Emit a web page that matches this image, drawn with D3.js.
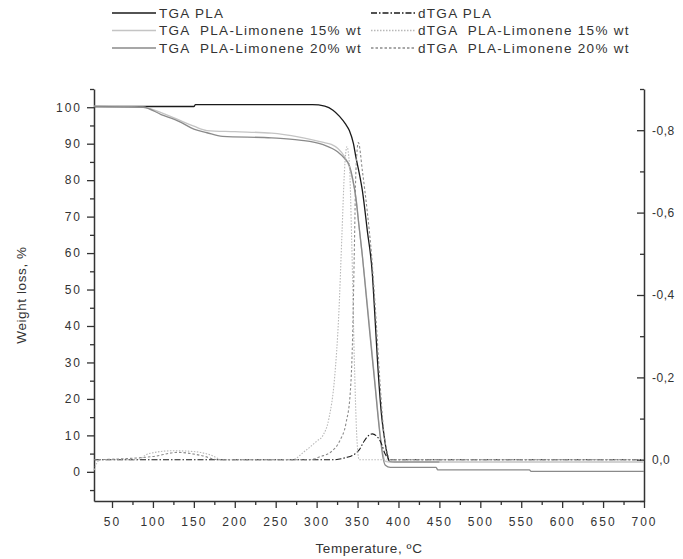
<!DOCTYPE html>
<html>
<head>
<meta charset="utf-8">
<script src="https://cdn.jsdelivr.net/npm/d3@7"></script>
<style>
  body { margin: 0; background: #fff; }
  svg { display: block; font-family: 'Liberation Sans', Arial, sans-serif; }
</style>
</head>
<body>
<div id="svg-container"></div>
<script>
// TGA curves: [temperature ºC, weight %]
const tgaPla = [
  [28, 100.2], [150, 100.2], [152, 100.7], [295, 100.7], [310, 100.3], [320, 99.2],
  [328, 97.5], [335, 95.5], [340, 93.6], [345, 90], [348, 86.3], [352, 82],
  [356, 77], [362, 66], [368, 54.5], [371, 43.6], [374.5, 30], [379, 16.3],
  [383, 9], [386, 5], [389, 2.9], [395, 2.7], [450, 2.7],
]
const tgaLim15 = [
  [28, 100.3], [88, 100], [110, 98.5], [133, 96.4], [150, 94.8], [166, 93.6],
  [200, 93.3], [245, 92.9], [279, 91.8], [307, 90.4], [318, 89.8], [326, 88.7],
  [334, 86.5], [340, 83.6], [344, 80], [348, 75.4], [352, 67], [356, 59],
  [359, 52.6], [365, 39], [371, 25.3], [377, 11.6], [381, 5], [384, 2.9],
  [390, 2.7], [700, 2.7],
]
const tgaLim20 = [
  [28, 100.2], [88, 100], [110, 98], [133, 96], [150, 94], [166, 93], [185, 92],
  [245, 91.6], [279, 91], [307, 89.8], [326, 87.7], [334, 86], [340, 84],
  [344, 80.5], [348, 75], [352, 67], [356, 59], [359, 52], [365, 38], [371, 24.5],
  [377, 11], [381, 4], [384, 1.8], [390, 1.2], [446, 1.2], [448, 0.55],
  [560, 0.55], [562, 0.1], [700, 0.1],
]
// dTGA curves: [temperature ºC, derivative]
const dtgaPla = [
  [28, 0], [320, 0], [335, -0.005], [345, -0.012], [352, -0.024], [358, -0.045],
  [363, -0.058], [368, -0.063], [373, -0.058], [377, -0.048], [380, -0.035],
  [383, -0.017], [387, -0.005], [392, 0], [700, 0],
]
const dtgaLim15 = [
  [28, 0.025], [35, 0], [80, 0], [95, -0.015], [125, -0.022], [150, -0.02],
  [170, -0.012], [185, 0], [270, 0], [285, -0.02], [300, -0.045], [308, -0.06],
  [315, -0.1], [322, -0.2], [327, -0.35], [331, -0.55], [334, -0.7], [337, -0.76],
  [340, -0.72], [343, -0.52], [346, -0.25], [349, -0.06], [352, 0], [700, 0],
]
const dtgaLim20 = [
  [28, 0], [100, -0.008], [130, -0.018], [160, -0.01], [180, 0], [290, 0],
  [305, -0.008], [318, -0.02], [328, -0.045], [336, -0.09], [341, -0.16],
  [344, -0.3], [346, -0.5], [348, -0.7], [351, -0.77], [356, -0.7], [362, -0.6],
  [367, -0.5], [372, -0.36], [377, -0.2], [382, -0.07], [386, -0.02], [390, 0], [700, 0],
]

const xTicks = d3.range(50, 701, 50)
const xMinorTicks = d3.range(75, 700, 50)
const yTicks = d3.range(0, 101, 10)
const yMinorTicks = d3.range(-5, 106, 10)
const y2Ticks = [0, -0.2, -0.4, -0.6, -0.8]
const y2MinorTicks = [0.1, -0.1, -0.3, -0.5, -0.7, -0.9]

const series = [
  { label: 'TGA PLA', data: tgaPla, axis: 'left', color: '#1a1a1a', dash: null, width: 1.3 },
  { label: 'TGA  PLA-Limonene 15% wt', data: tgaLim15, axis: 'left', color: '#c4c4c4', dash: null, width: 1.3 },
  { label: 'TGA  PLA-Limonene 20% wt', data: tgaLim20, axis: 'left', color: '#8a8a8a', dash: null, width: 1.3 },
  { label: 'dTGA PLA', data: dtgaPla, axis: 'right', color: '#1a1a1a', dash: '6 2 1.5 2', width: 1.1 },
  { label: 'dTGA  PLA-Limonene 15% wt', data: dtgaLim15, axis: 'right', color: '#b8b8b8', dash: '1.5 1.5', width: 1.1 },
  { label: 'dTGA  PLA-Limonene 20% wt', data: dtgaLim20, axis: 'right', color: '#8c8c8c', dash: '2.5 2', width: 1.1 },
]

const width = 683
const height = 559
const margin = { top: 89, right: 39, bottom: 58, left: 94 }

const svg = d3.select('#svg-container')
  .append('svg')
  .attr('width', width)
  .attr('height', height)

const x = d3.scaleLinear().domain([28, 700]).range([margin.left, width - margin.right])
const y = d3.scaleLinear().domain([-8, 105]).range([height - margin.bottom, margin.top])
const y2 = d3.scaleLinear().domain([0.1, -0.9]).range([height - margin.bottom, margin.top])

const axisColor = '#333'
const tickFont = g => g.selectAll('.tick text')
  .attr('fill', '#333')
  .style('font-size', '12px')
  .style('letter-spacing', '2px')

// minor ticks first
svg.append('g')
  .attr('transform', `translate(0, ${height - margin.bottom})`)
  .call(d3.axisBottom(x).tickValues(xMinorTicks).tickSize(4).tickFormat(''))
  .call(g => g.select('.domain').remove())
  .call(g => g.selectAll('.tick line').attr('stroke', axisColor).attr('stroke-width', 1.3))
svg.append('g')
  .attr('transform', `translate(${margin.left}, 0)`)
  .call(d3.axisLeft(y).tickValues(yMinorTicks).tickSize(4).tickFormat(''))
  .call(g => g.select('.domain').remove())
  .call(g => g.selectAll('.tick line').attr('stroke', axisColor).attr('stroke-width', 1.3))
svg.append('g')
  .attr('transform', `translate(${width - margin.right}, 0)`)
  .call(d3.axisLeft(y2).tickValues(y2MinorTicks).tickSize(4).tickFormat(''))
  .call(g => g.select('.domain').remove())
  .call(g => g.selectAll('.tick line').attr('stroke', axisColor).attr('stroke-width', 1.3))

// x axis
svg.append('g')
  .attr('transform', `translate(0, ${height - margin.bottom})`)
  .call(d3.axisBottom(x).tickValues(xTicks).tickSize(7).tickSizeOuter(0).tickPadding(9))
  .call(g => g.select('.domain').attr('stroke', axisColor).attr('stroke-width', 1.5))
  .call(g => g.selectAll('.tick line').attr('stroke', axisColor).attr('stroke-width', 1.3))
  .call(tickFont)

// left y axis
svg.append('g')
  .attr('transform', `translate(${margin.left}, 0)`)
  .call(d3.axisLeft(y).tickValues(yTicks).tickSize(7).tickSizeOuter(0).tickPadding(5))
  .call(g => g.select('.domain').attr('stroke', axisColor).attr('stroke-width', 1.5))
  .call(g => g.selectAll('.tick line').attr('stroke', axisColor).attr('stroke-width', 1.3))
  .call(tickFont)

// right y axis (ticks inward, labels outside)
const y2Axis = svg.append('g')
  .attr('transform', `translate(${width - margin.right}, 0)`)
  .call(d3.axisRight(y2).tickValues(y2Ticks).tickSize(0).tickSizeOuter(0).tickPadding(8)
    .tickFormat(d => d3.format('.1f')(Math.abs(d) < 1e-9 ? 0 : d).replace('.', ',').replace('−', '-')))
  .call(g => g.select('.domain').attr('stroke', axisColor).attr('stroke-width', 1.5))
  .call(g => g.selectAll('.tick text')
    .attr('fill', '#333')
    .style('font-size', '12px')
    .style('letter-spacing', '0.5px'))
y2Axis.selectAll('.tick')
  .append('line')
  .attr('x1', -7)
  .attr('x2', 0)
  .attr('stroke', axisColor)
  .attr('stroke-width', 1.3)

// curves
const plot = svg.append('g')
series.forEach(s => {
  const ys = s.axis === 'left' ? y : y2
  const line = d3.line()
    .curve(d3.curveMonotoneX)
    .x(d => x(d[0]))
    .y(d => ys(d[1]))
  plot.append('path')
    .datum(s.data)
    .attr('d', line)
    .attr('fill', 'none')
    .attr('stroke', s.color)
    .attr('stroke-width', s.width)
    .attr('stroke-dasharray', s.dash)
})

// legend
const legendCols = [
  { lineX: 112, lineW: 44, textX: 159 },
  { lineX: 371, lineW: 45, textX: 418 },
]
const legend = svg.append('g').attr('class', 'legend')
series.forEach((s, i) => {
  const col = legendCols[Math.floor(i / 3)]
  const ly = 13 + (i % 3) * 17.5
  legend.append('line')
    .attr('x1', col.lineX)
    .attr('x2', col.lineX + col.lineW)
    .attr('y1', ly)
    .attr('y2', ly)
    .attr('stroke', s.color)
    .attr('stroke-width', 1.3)
    .attr('stroke-dasharray', s.dash)
  legend.append('text')
    .attr('x', col.textX)
    .attr('y', ly)
    .attr('dy', '0.35em')
    .attr('fill', '#333')
    .style('font-size', '13.5px')
    .style('letter-spacing', '1.3px')
    .style('white-space', 'pre')
    .text(s.label)
})

// axis titles
svg.append('text')
  .attr('transform', `translate(21, ${(margin.top + height - margin.bottom) / 2}) rotate(-90)`)
  .attr('text-anchor', 'middle')
  .attr('dy', '0.35em')
  .attr('fill', '#333')
  .style('font-size', '13.5px')
  .style('letter-spacing', '0.6px')
  .text('Weight loss, %')

svg.append('text')
  .attr('x', (margin.left + width - margin.right) / 2)
  .attr('y', 548)
  .attr('text-anchor', 'middle')
  .attr('dy', '0.35em')
  .attr('fill', '#333')
  .style('font-size', '13.5px')
  .style('letter-spacing', '0.6px')
  .text('Temperature, ºC')
</script>
</body>
</html>
